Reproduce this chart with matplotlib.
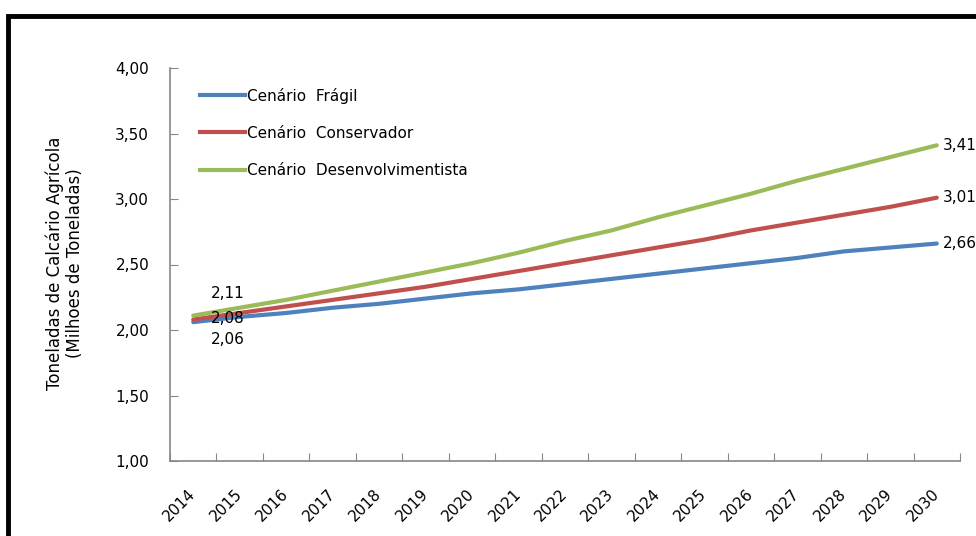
import matplotlib.pyplot as plt
from matplotlib.patches import Rectangle
from matplotlib.lines import Line2D

plt.rcParams['font.family'] = ['DejaVu Sans']
FS = 11

anos = [str(a) for a in range(2014, 2031)]

# projeções de calcário agrícola (milhões de toneladas)
fragil = [2.06, 2.10, 2.13, 2.17, 2.20, 2.24, 2.28, 2.31, 2.35, 2.39,
          2.43, 2.47, 2.51, 2.55, 2.60, 2.63, 2.66]
conservador = [2.08, 2.13, 2.18, 2.23, 2.28, 2.33, 2.39, 2.45, 2.51, 2.57,
               2.63, 2.69, 2.76, 2.82, 2.88, 2.94, 3.01]
desenvolvimentista = [2.11, 2.17, 2.23, 2.30, 2.37, 2.44, 2.51, 2.59, 2.68, 2.76,
                      2.86, 2.95, 3.04, 3.14, 3.23, 3.32, 3.41]

series = [
    ('Cenário  Frágil', fragil, '#4F81BD'),
    ('Cenário  Conservador', conservador, '#C0504D'),
    ('Cenário  Desenvolvimentista', desenvolvimentista, '#9BBB59'),
]


def fmt(v):
    return f'{v:.2f}'.replace('.', ',')


fig = plt.figure(figsize=(9.76, 5.36), dpi=100)
ax = fig.add_axes([170 / 976, 1 - 461 / 536, 790 / 976, 393 / 536])

x = list(range(len(anos)))
for nome, vals, cor in series:
    ax.plot(x, vals, color=cor, lw=3.0, label=nome, solid_capstyle='round')

# rótulos de valor no início e no fim das séries
ax.text(0.75, fragil[0] - 0.13, fmt(fragil[0]), fontsize=FS, ha='center', va='center')
ax.text(0.75, conservador[0] + 0.01, fmt(conservador[0]), fontsize=FS, ha='center', va='center')
ax.text(0.75, desenvolvimentista[0] + 0.17, fmt(desenvolvimentista[0]),
        fontsize=FS, ha='center', va='center')
for _, vals, _ in series:
    ax.text(len(anos) - 1 + 0.14, vals[-1], fmt(vals[-1]),
            fontsize=FS, ha='left', va='center', clip_on=False)

ax.set_xlim(-0.5, len(anos) - 0.5)
ax.set_ylim(1.0, 4.0)
ax.set_yticks([1.0, 1.5, 2.0, 2.5, 3.0, 3.5, 4.0])
ax.set_yticklabels([fmt(v) for v in ax.get_yticks()])

# marcas do eixo x nas divisões entre categorias
ax.set_xticks([i - 0.5 for i in range(len(anos) + 1)], minor=False)
ax.set_xticklabels([])
ax.set_xticks(x, minor=True)
ax.set_xticklabels(anos, minor=True, rotation=45, ha='right', va='center',
                   rotation_mode='anchor')
ax.tick_params(axis='x', which='major', direction='in', length=6, color='#868686')
ax.tick_params(axis='x', which='minor', length=0, pad=22, labelsize=FS)
ax.tick_params(axis='y', direction='in', length=6, color='#868686', pad=15, labelsize=FS)

for lado in ('top', 'right'):
    ax.spines[lado].set_visible(False)
for lado in ('left', 'bottom'):
    ax.spines[lado].set_color('#868686')
    ax.spines[lado].set_linewidth(1.2)

fig.text(65 / 976, 1 - 263 / 536,
         'Toneladas de Calcário Agrícola\n(Milhoes de Toneladas)',
         rotation=90, ha='center', va='center', fontsize=12,
         multialignment='center', linespacing=1.15)

handles = [Line2D([], [], color=c, lw=3.0) for _, _, c in series]
ax.legend(handles, [s[0] for s in series], loc='upper left',
          bbox_to_anchor=(0.038, 0.95), frameon=False, fontsize=FS,
          handlelength=2.95, handletextpad=0.1, labelspacing=1.45,
          borderaxespad=0, borderpad=0)

# moldura preta em volta do gráfico
fig.patches.append(Rectangle((8 / 976, -0.1), 1.2, 1 - 16 / 536 + 0.1,
                             transform=fig.transFigure, fill=False,
                             edgecolor='black', lw=3.5, zorder=10))

fig.savefig('out.png', dpi=100)
